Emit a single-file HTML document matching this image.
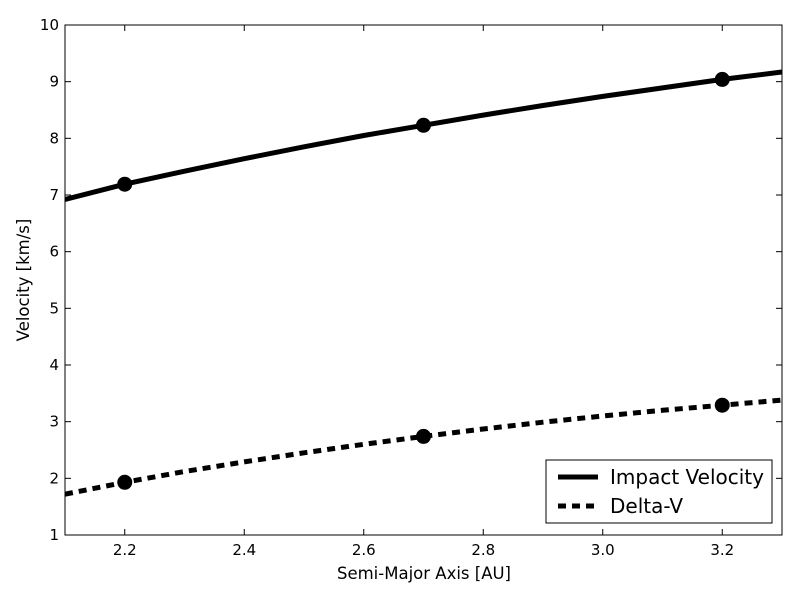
<!DOCTYPE html>
<html><head><meta charset="utf-8"><style>
html,body{margin:0;padding:0;background:#fff;}
svg{display:block;font-family:"DejaVu Sans","Liberation Sans",sans-serif;}
</style></head><body>
<svg id="chart" width="800" height="597" viewBox="0 0 800 597">
<defs><clipPath id="clip"><rect x="65" y="25" width="717" height="510"/></clipPath></defs>
<rect x="0" y="0" width="800" height="597" fill="#fff"/>
<g id="series" clip-path="url(#clip)"></g>
<g id="markers"></g>
<g id="axes"></g>
<rect x="65" y="25" width="717" height="510" fill="none" stroke="#000" stroke-width="1"/>
<text x="424" y="579" font-size="16.5" text-anchor="middle">Semi-Major Axis [AU]</text>
<text x="29" y="280" font-size="16.5" text-anchor="middle" transform="rotate(-90 29 280)">Velocity [km/s]</text>
<g>
<rect x="546" y="460" width="226" height="63" fill="#fff" stroke="#000" stroke-width="1"/>
<line x1="558" y1="477" x2="598" y2="477" stroke="#000" stroke-width="5"/>
<text x="610" y="484" font-size="20">Impact Velocity</text>
<line x1="558" y1="506" x2="598" y2="506" stroke="#000" stroke-width="5" stroke-dasharray="8,6"/>
<text x="610" y="513" font-size="20">Delta-V</text>
</g>
</svg>
<script>
const xValues = [2.1,2.2,2.3,2.4,2.5,2.6,2.7,2.8,2.9,3.0,3.1,3.2,3.3];
const impactVelocity = [6.92,7.19,7.42,7.64,7.85,8.05,8.23,8.41,8.58,8.74,8.89,9.04,9.17];
const deltaV = [1.72,1.93,2.12,2.29,2.45,2.60,2.74,2.87,2.99,3.10,3.20,3.29,3.38];
const markerX = [2.2,2.7,3.2];
const impactMarkers = [7.19,8.23,9.04];
const deltaMarkers = [1.93,2.74,3.29];
const xTicks = [2.2,2.4,2.6,2.8,3.0,3.2];
const xTickLabels = ["2.2","2.4","2.6","2.8","3.0","3.2"];
const yTicks = [1,2,3,4,5,6,7,8,9,10];

const NS="http://www.w3.org/2000/svg";
const L=65,R=782,T=25,B=535;
const xs=v=>L+(v-2.1)/(3.3-2.1)*(R-L);
const ys=v=>B-(v-1)/(10-1)*(B-T);
function mk(t,a){const e=document.createElementNS(NS,t);for(const k in a)e.setAttribute(k,a[k]);return e;}
const series=document.getElementById('series'),markers=document.getElementById('markers'),axes=document.getElementById('axes');
function line(vals,dash,name){
  const d=xValues.map((x,i)=>(i?'L':'M')+xs(x).toFixed(1)+','+ys(vals[i]).toFixed(1)).join(' ');
  const p=mk('path',{d:d,fill:'none',stroke:'#000','stroke-width':5});
  if(dash)p.setAttribute('stroke-dasharray',dash);
  
  
  series.appendChild(p);
}
line(impactVelocity,null,'impact-velocity-line');
line(deltaV,'8,6','delta-v-line');
markerX.forEach((x,i)=>{
  const c1=mk('circle',{cx:xs(x),cy:ys(impactMarkers[i]),r:7.5,fill:'#000'});
  
  
  markers.appendChild(c1);
  const c2=mk('circle',{cx:xs(x),cy:ys(deltaMarkers[i]),r:7.5,fill:'#000'});
  
  
  markers.appendChild(c2);
});
xTicks.forEach((v,i)=>{
  const x=xs(v);
  axes.appendChild(mk('line',{x1:x,y1:B,x2:x,y2:B-6,stroke:'#000'}));
  axes.appendChild(mk('line',{x1:x,y1:T,x2:x,y2:T+6,stroke:'#000'}));
  const t=mk('text',{x:x,y:B+20,'font-size':15,'text-anchor':'middle'});
  t.textContent=xTickLabels[i];
  
  
  axes.appendChild(t);
});
yTicks.forEach(v=>{
  const y=ys(v);
  axes.appendChild(mk('line',{x1:L,y1:y,x2:L+6,y2:y,stroke:'#000'}));
  axes.appendChild(mk('line',{x1:R,y1:y,x2:R-6,y2:y,stroke:'#000'}));
  const t=mk('text',{x:L-6,y:y+5,'font-size':15,'text-anchor':'end'});
  t.textContent=String(v);
  
  
  axes.appendChild(t);
});
</script>
</body></html>
